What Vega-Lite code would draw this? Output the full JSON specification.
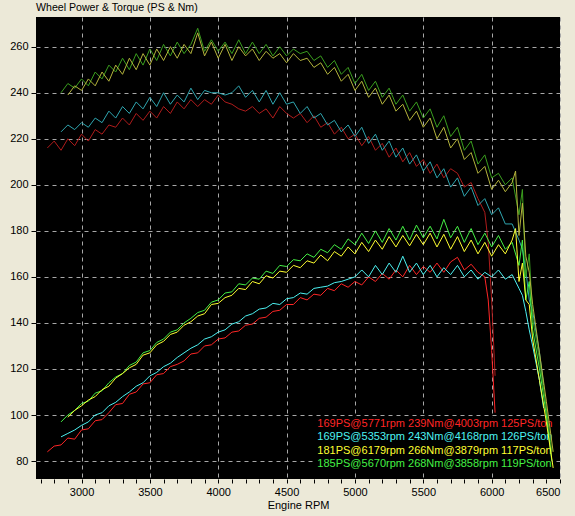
{
  "$schema": "https://vega.github.io/schema/vega-lite/v6.json",
  "width": 524,
  "height": 462,
  "autosize": {"type": "none"},
  "padding": {"left": 36, "top": 17, "right": 15, "bottom": 37},
  "background": "#ECE9D8",
  "view": {"fill": "black", "stroke": null},
  "title": {
    "text": "Wheel Power & Torque (PS & Nm)",
    "anchor": "start",
    "frame": "group",
    "offset": 3,
    "font": "Liberation Sans",
    "fontSize": 10.6,
    "fontWeight": "normal",
    "color": "black"
  },
  "config": {
    "font": "Liberation Sans",
    "axis": {
      "labelFont": "Liberation Sans",
      "labelFontSize": 11,
      "labelColor": "black",
      "tickColor": "black",
      "domain": false,
      "gridColor": "#a8a8a8",
      "gridDash": [4, 4],
      "titleFont": "Liberation Sans",
      "titleFontSize": 11,
      "titleFontWeight": "normal",
      "titleColor": "black"
    }
  },
  "datasets": {
    "runs": [
      {"rpm": 2750, "rP": 84, "rT": 216},
      {"rpm": 2800, "rP": 86.5, "rT": 219},
      {"rpm": 2850, "rP": 87, "rT": 215, "cP": 90.5, "cT": 223, "gP": 97, "gT": 240},
      {"rpm": 2900, "rP": 90, "rT": 220, "cP": 92, "cT": 226, "yP": 99, "yT": 239, "gP": 100, "gT": 244},
      {"rpm": 2950, "rP": 89.5, "rT": 217, "cP": 93.5, "cT": 224, "yP": 102, "yT": 243, "gP": 102, "gT": 242},
      {"rpm": 3000, "rP": 93.5, "rT": 222, "cP": 95.5, "cT": 227, "yP": 104, "yT": 241, "gP": 105, "gT": 246},
      {"rpm": 3050, "rP": 94, "rT": 219, "cP": 97, "cT": 225, "yP": 106.5, "yT": 246, "gP": 106, "gT": 243},
      {"rpm": 3100, "rP": 97.5, "rT": 224, "cP": 100, "cT": 229, "yP": 108, "yT": 243, "gP": 109.5, "gT": 249},
      {"rpm": 3150, "rP": 98, "rT": 222, "cP": 101, "cT": 227, "yP": 111, "yT": 249, "gP": 110.5, "gT": 246},
      {"rpm": 3200, "rP": 101, "rT": 226, "cP": 104, "cT": 232, "yP": 112.5, "yT": 245, "gP": 114, "gT": 252},
      {"rpm": 3250, "rP": 104.5, "rT": 225, "cP": 105.5, "cT": 229, "yP": 116, "yT": 252, "gP": 116.5, "gT": 249},
      {"rpm": 3300, "rP": 105, "rT": 229, "cP": 108, "cT": 234, "yP": 118, "yT": 248, "gP": 118, "gT": 255},
      {"rpm": 3350, "rP": 109, "rT": 226, "cP": 110, "cT": 231, "yP": 120.5, "yT": 255, "gP": 121.5, "gT": 250},
      {"rpm": 3400, "rP": 110, "rT": 231, "cP": 112.5, "cT": 236, "yP": 122, "yT": 250, "gP": 123, "gT": 257},
      {"rpm": 3450, "rP": 113.5, "rT": 228, "cP": 114, "cT": 233, "yP": 126, "yT": 257, "gP": 127, "gT": 252},
      {"rpm": 3500, "rP": 114, "rT": 232, "cP": 117, "cT": 238, "yP": 127, "yT": 252, "gP": 128, "gT": 259},
      {"rpm": 3550, "rP": 117.5, "rT": 229, "cP": 118.5, "cT": 234, "yP": 130.5, "yT": 259, "gP": 131.5, "gT": 254},
      {"rpm": 3600, "rP": 118, "rT": 234, "cP": 121, "cT": 240, "yP": 132, "yT": 254, "gP": 133, "gT": 261},
      {"rpm": 3650, "rP": 121, "rT": 231, "cP": 122.5, "cT": 235, "yP": 135, "yT": 260, "gP": 136, "gT": 256},
      {"rpm": 3700, "rP": 122, "rT": 236, "cP": 125, "cT": 239, "yP": 136, "yT": 255, "gP": 137, "gT": 262},
      {"rpm": 3750, "rP": 123.5, "rT": 233, "cP": 127, "cT": 236, "yP": 139, "yT": 261, "gP": 140, "gT": 257},
      {"rpm": 3800, "rP": 126.5, "rT": 237, "cP": 129, "cT": 242, "yP": 140.5, "yT": 257, "gP": 142, "gT": 261},
      {"rpm": 3850, "rP": 127, "rT": 234, "cP": 130.5, "cT": 237, "yP": 143, "yT": 266, "gP": 144.5, "gT": 268},
      {"rpm": 3900, "rP": 130, "rT": 237, "cP": 133, "cT": 241, "yP": 144, "yT": 256, "gP": 145.5, "gT": 258},
      {"rpm": 3950, "rP": 130.5, "rT": 235, "cP": 134, "cT": 240, "yP": 148, "yT": 262, "gP": 149, "gT": 263},
      {"rpm": 4000, "rP": 133, "rT": 239, "cP": 136, "cT": 240, "yP": 148.5, "yT": 255, "gP": 150, "gT": 258},
      {"rpm": 4050, "rP": 133.5, "rT": 236, "cP": 137, "cT": 239, "yP": 151, "yT": 261, "gP": 153, "gT": 262},
      {"rpm": 4100, "rP": 136, "rT": 235, "cP": 139.5, "cT": 240, "yP": 152, "yT": 254, "gP": 153.5, "gT": 257},
      {"rpm": 4150, "rP": 136.5, "rT": 233, "cP": 140.5, "cT": 243, "yP": 155, "yT": 260, "gP": 157, "gT": 263},
      {"rpm": 4200, "rP": 139, "rT": 232, "cP": 143, "cT": 238, "yP": 154.5, "yT": 256, "gP": 156.5, "gT": 257},
      {"rpm": 4250, "rP": 139.5, "rT": 234, "cP": 144, "cT": 241, "yP": 158, "yT": 259, "gP": 159.5, "gT": 262},
      {"rpm": 4300, "rP": 142, "rT": 231, "cP": 146, "cT": 236, "yP": 157, "yT": 254, "gP": 159, "gT": 257},
      {"rpm": 4350, "rP": 142.5, "rT": 233, "cP": 146.5, "cT": 241, "yP": 160.5, "yT": 258, "gP": 162.5, "gT": 261},
      {"rpm": 4400, "rP": 145, "rT": 229, "cP": 148.5, "cT": 235, "yP": 159.5, "yT": 255, "gP": 161.5, "gT": 256},
      {"rpm": 4450, "rP": 145.5, "rT": 234, "cP": 148, "cT": 240, "yP": 162.5, "yT": 257, "gP": 165, "gT": 260},
      {"rpm": 4500, "rP": 148, "rT": 231, "cP": 150.5, "cT": 235, "yP": 162, "yT": 253, "gP": 164.5, "gT": 256},
      {"rpm": 4550, "rP": 148, "rT": 229, "cP": 151, "cT": 236, "yP": 165, "yT": 257, "gP": 167.5, "gT": 259},
      {"rpm": 4600, "rP": 151, "rT": 231, "cP": 153, "cT": 231, "yP": 164, "yT": 254, "gP": 167, "gT": 257},
      {"rpm": 4650, "rP": 150, "rT": 227, "cP": 152.5, "cT": 234, "yP": 167, "yT": 255, "gP": 170, "gT": 258},
      {"rpm": 4700, "rP": 152.5, "rT": 230, "cP": 155, "cT": 229, "yP": 166, "yT": 251, "gP": 168.5, "gT": 254},
      {"rpm": 4750, "rP": 152, "rT": 225, "cP": 155.5, "cT": 231, "yP": 169.5, "yT": 253, "gP": 172, "gT": 256},
      {"rpm": 4800, "rP": 155, "rT": 227, "cP": 156, "cT": 226, "yP": 167, "yT": 248, "gP": 170.5, "gT": 251},
      {"rpm": 4850, "rP": 154, "rT": 222, "cP": 157.5, "cT": 228, "yP": 171, "yT": 251, "gP": 174, "gT": 254},
      {"rpm": 4900, "rP": 157, "rT": 225, "cP": 158, "cT": 223, "yP": 169, "yT": 245, "gP": 172, "gT": 248},
      {"rpm": 4950, "rP": 155.5, "rT": 220, "cP": 159, "cT": 226, "yP": 173, "yT": 248, "gP": 176.5, "gT": 251},
      {"rpm": 5000, "rP": 158, "rT": 222, "cP": 160, "cT": 221, "yP": 170, "yT": 241, "gP": 174, "gT": 244},
      {"rpm": 5050, "rP": 156.5, "rT": 217, "cP": 163, "cT": 225, "yP": 175, "yT": 245, "gP": 179, "gT": 248},
      {"rpm": 5100, "rP": 160, "rT": 221, "cP": 160, "cT": 218, "yP": 171, "yT": 238, "gP": 174.5, "gT": 241},
      {"rpm": 5150, "rP": 158, "rT": 215, "cP": 165, "cT": 222, "yP": 176, "yT": 242, "gP": 180, "gT": 245},
      {"rpm": 5200, "rP": 161.5, "rT": 218, "cP": 161, "cT": 215, "yP": 172, "yT": 235, "gP": 175, "gT": 238},
      {"rpm": 5250, "rP": 159, "rT": 212, "cP": 166, "cT": 219, "yP": 177.5, "yT": 239, "gP": 181, "gT": 242},
      {"rpm": 5300, "rP": 163, "rT": 216, "cP": 162, "cT": 212, "yP": 173, "yT": 232, "gP": 176, "gT": 235},
      {"rpm": 5350, "rP": 160, "rT": 210, "cP": 169, "cT": 216, "yP": 178, "yT": 235, "gP": 182, "gT": 239},
      {"rpm": 5400, "rP": 165, "rT": 214, "cP": 162, "cT": 209, "yP": 173.5, "yT": 228, "gP": 176, "gT": 232},
      {"rpm": 5450, "rP": 161, "rT": 208, "cP": 166, "cT": 213, "yP": 178.5, "yT": 232, "gP": 182.5, "gT": 236},
      {"rpm": 5500, "rP": 164.5, "rT": 211, "cP": 161, "cT": 206, "yP": 174, "yT": 225, "gP": 177, "gT": 229},
      {"rpm": 5550, "rP": 162, "rT": 205, "cP": 165, "cT": 210, "yP": 179, "yT": 229, "gP": 182, "gT": 233},
      {"rpm": 5600, "rP": 166, "rT": 209, "cP": 160, "cT": 203, "yP": 173, "yT": 220, "gP": 176.5, "gT": 225},
      {"rpm": 5650, "rP": 162, "rT": 203, "cP": 164, "cT": 207, "yP": 178.5, "yT": 225, "gP": 185, "gT": 230},
      {"rpm": 5700, "rP": 166.5, "rT": 207, "cP": 161, "cT": 199, "yP": 172, "yT": 216, "gP": 177, "gT": 221},
      {"rpm": 5750, "rP": 168.5, "rT": 205, "cP": 165, "cT": 203, "yP": 177.5, "yT": 220, "gP": 182, "gT": 225},
      {"rpm": 5800, "rP": 163, "rT": 199, "cP": 160, "cT": 195, "yP": 171, "yT": 211, "gP": 175, "gT": 215},
      {"rpm": 5850, "rP": 165.5, "rT": 201, "cP": 163, "cT": 199, "yP": 176, "yT": 214, "gP": 181, "gT": 219},
      {"rpm": 5900, "rP": 162, "rT": 194, "cP": 159, "cT": 191, "yP": 170, "yT": 205, "gP": 174, "gT": 209},
      {"rpm": 5950, "rP": 160, "rT": 188, "cP": 162, "cT": 194, "yP": 175, "yT": 208, "gP": 179, "gT": 213},
      {"rpm": 5975, "rP": 150, "rT": 175},
      {"rpm": 6000, "rP": 128, "rT": 150, "cP": 160, "cT": 187, "yP": 169, "yT": 198, "gP": 173, "gT": 203},
      {"rpm": 6025, "rP": 101, "rT": 117},
      {"rpm": 6050, "cP": 163, "cT": 190, "yP": 174, "yT": 202, "gP": 178, "gT": 205},
      {"rpm": 6100, "cP": 159, "cT": 183, "yP": 170, "yT": 197, "gP": 172, "gT": 200},
      {"rpm": 6150, "cP": 161, "cT": 183, "yP": 176, "yT": 201, "gP": 175, "gT": 203},
      {"rpm": 6175, "yP": 181, "yT": 206},
      {"rpm": 6200, "cP": 155, "cT": 176, "yP": 158, "yT": 178, "gP": 165, "gT": 187},
      {"rpm": 6225, "cP": 152, "cT": 172, "yP": 166, "yT": 192, "gP": 176, "gT": 198},
      {"rpm": 6250, "cP": 145, "cT": 163, "yP": 150, "yT": 169, "gP": 150, "gT": 160},
      {"rpm": 6275, "cP": 137, "cT": 150, "yP": 148, "yT": 162, "gP": 158, "gT": 170},
      {"rpm": 6300, "cP": 130, "cT": 145, "yP": 133, "yT": 148, "gP": 137, "gT": 142},
      {"rpm": 6350, "cP": 115, "cT": 127, "yP": 115, "yT": 127, "gP": 120, "gT": 124},
      {"rpm": 6380, "cP": 103, "cT": 113},
      {"rpm": 6400, "yP": 97, "yT": 106, "gP": 100, "gT": 103},
      {"rpm": 6440, "gP": 80, "gT": 84},
      {"rpm": 6450, "yP": 77, "yT": 84}
    ],
    "notes": [
      {"key": "rP", "label": "169PS@5771rpm 239Nm@4003rpm 125PS/ton", "rpm": 4725, "value": 96},
      {"key": "cP", "label": "169PS@5353rpm 243Nm@4168rpm 126PS/ton", "rpm": 4725, "value": 90.3},
      {"key": "yP", "label": "181PS@6179rpm 266Nm@3879rpm 117PS/ton", "rpm": 4725, "value": 84.5},
      {"key": "gP", "label": "185PS@5670rpm 268Nm@3858rpm 119PS/ton", "rpm": 4725, "value": 78.7}
    ]
  },
  "encoding": {
    "x": {
      "field": "rpm",
      "type": "quantitative",
      "title": "Engine RPM",
      "scale": {"domain": [2667, 6500], "nice": false, "zero": false},
      "axis": {
        "values": [2700, 2800, 2900, 3000, 3100, 3200, 3300, 3400, 3500, 3600, 3700, 3800, 3900, 4000, 4100, 4200, 4300, 4400, 4500, 4600, 4700, 4800, 4900, 5000, 5100, 5200, 5300, 5400, 5500, 5600, 5700, 5800, 5900, 6000, 6100, 6200, 6300, 6400, 6500],
        "format": "d",
        "labelExpr": "datum.value % 500 === 0 ? datum.label : ''",
        "grid": true,
        "gridOpacity": {"condition": {"test": "datum.value % 500 === 0", "value": 1}, "value": 0},
        "tickSize": 4,
        "labelPadding": 3,
        "titlePadding": 2
      }
    },
    "y": {
      "field": "value",
      "type": "quantitative",
      "title": null,
      "scale": {"domain": [72.2, 272.9], "nice": false, "zero": false},
      "axis": {
        "values": [80, 100, 120, 140, 160, 180, 200, 220, 240, 260],
        "grid": true,
        "tickSize": 5,
        "labelPadding": 3
      }
    },
    "color": {
      "field": "key",
      "type": "nominal",
      "legend": null,
      "scale": {
        "domain": ["rT", "rP", "cT", "cP", "yT", "yP", "gT", "gP"],
        "range": ["#b01c1c", "#ff2626", "#2fa6b0", "#4cf2f2", "#b4b43c", "#ffff30", "#3a9e1e", "#44f044"]
      }
    }
  },
  "layer": [
    {
      "data": {"name": "notes"},
      "mark": {"type": "rect", "color": "black", "yOffset": 7, "y2Offset": -7, "xOffset": -2},
      "encoding": {
        "x": {"aggregate": "min", "field": "rpm", "type": "quantitative"},
        "x2": {"datum": 6440},
        "y": {"aggregate": "min", "field": "value", "type": "quantitative"},
        "y2": {"aggregate": "max", "field": "value"},
        "color": {"value": "black"}
      }
    },
    {
      "data": {"name": "notes"},
      "mark": {"type": "text", "align": "left", "baseline": "middle", "font": "Liberation Sans", "fontSize": 11},
      "encoding": {
        "text": {"field": "label", "type": "nominal"}
      }
    },
    {
      "data": {"name": "runs"},
      "transform": [
        {"fold": ["rT", "rP", "cT", "cP", "yT", "yP", "gT", "gP"], "as": ["key", "value"]},
        {"filter": "isValid(datum.value)"}
      ],
      "mark": {"type": "line", "strokeWidth": 1, "clip": true}
    }
  ]
}
